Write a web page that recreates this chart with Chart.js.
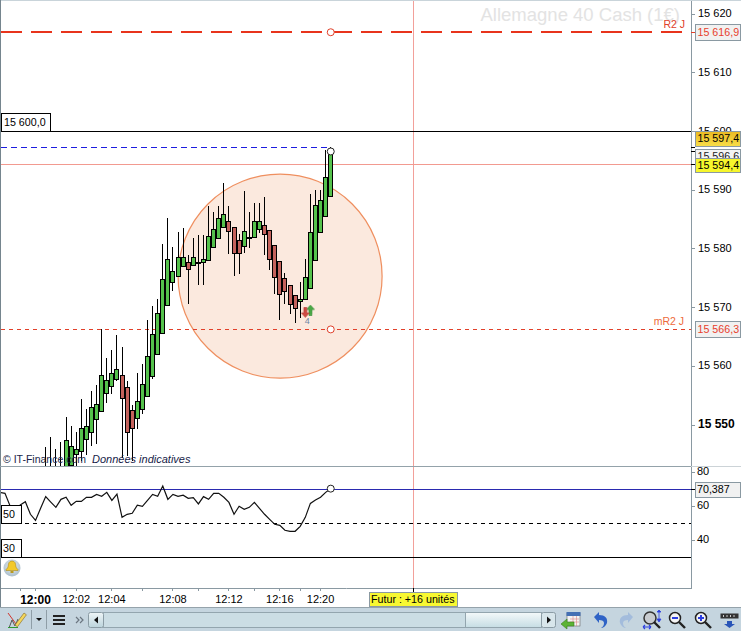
<!DOCTYPE html>
<html><head><meta charset="utf-8">
<style>
html,body{margin:0;padding:0;background:#fff;width:741px;height:631px;overflow:hidden}
canvas{position:absolute;left:0}
.d{position:absolute}
svg{position:absolute;left:0;top:0}
</style>
<script src="https://cdn.jsdelivr.net/npm/chart.js@4"></script>
</head><body>
<canvas id="main" width="741" height="466" style="top:0"></canvas>
<canvas id="osc" width="741" height="140" style="top:467px"></canvas>
<div class="d" style="left:0;top:0;width:741px;height:1px;background:#c9d4da"></div>
<div class="d" style="left:0;top:0;width:1px;height:607px;background:#75858e"></div>
<div class="d" style="left:0;top:466px;width:691px;height:1px;background:#94a2aa"></div>
<div class="d" style="left:691px;top:466px;width:50px;height:1px;background:#ccd3d7"></div>
<svg width="741" height="631" viewBox="0 0 741 631">
  <defs>
    <linearGradient id="bar" x1="0" y1="0" x2="0" y2="1"><stop offset="0" stop-color="#eef5f7"/><stop offset="1" stop-color="#bcd4dc"/></linearGradient>
    <linearGradient id="thumb" x1="0" y1="0" x2="0" y2="1"><stop offset="0" stop-color="#f4f9fa"/><stop offset="1" stop-color="#c6dde4"/></linearGradient>
    <radialGradient id="bellbg" cx=".5" cy=".4" r=".6"><stop offset="0" stop-color="#eef2f4"/><stop offset="1" stop-color="#a9bdcb"/></radialGradient>
  </defs>
  <!-- bell -->
  <circle cx="12" cy="568" r="8.5" fill="url(#bellbg)"/>
  <path d="M12 561c-3 0-3.6 2.4-3.8 5-.1 1.6-1.2 2.6-2.2 3.6v.9h12v-.9c-1-1-2.1-2-2.2-3.6-.2-2.6-.8-5-3.8-5z" fill="#f3c92b" stroke="#a78a1c" stroke-width=".6"/>
  <rect x="10.5" y="571" width="3" height="2" fill="#b99a20"/>
  <!-- toolbar -->
  <rect x="0" y="607" width="741" height="24" fill="#c5d5df"/>
  <rect x="0" y="607" width="741" height="1" fill="#95a3ab"/>
  <!-- pencil -->
  <path d="M8 613l8 11" stroke="#d0342c" stroke-width="1" fill="none"/>
  <path d="M9 628l3-8 3 6 3-7" stroke="#555" stroke-width="1" fill="none"/>
  <path d="M8 627.5h10" stroke="#2d9a30" stroke-width="1"/>
  <path d="M15 625l9-12 2.4 1.8-9 12z" fill="#f5d65a" stroke="#8d7530" stroke-width=".7"/>
  <rect x="31" y="610" width="1" height="19" fill="#8f9ea7"/>
  <path d="M36 618h6l-3 3z" fill="#111"/>
  <rect x="46" y="610" width="1" height="19" fill="#8f9ea7"/>
  <rect x="53" y="615" width="12" height="2" fill="#222"/><rect x="53" y="619" width="12" height="2" fill="#222"/><rect x="53" y="623" width="12" height="2" fill="#222"/>
  <path d="M76 617l3 3-3 3M80 617l3 3-3 3" stroke="#6b7680" stroke-width="1.2" fill="none"/>
  <!-- scrollbar -->
  <rect x="103" y="612.5" width="363" height="15" fill="#cbdde4" stroke="#93a5ae"/>
  <rect x="88.5" y="612.5" width="15" height="15" rx="2" fill="url(#bar)" stroke="#8b9ca5"/>
  <path d="M98 616.5v7l-4-3.5z" fill="#111"/>
  <rect x="465.5" y="612.5" width="76" height="15" fill="url(#thumb)" stroke="#93a5ae"/>
  <rect x="541.5" y="612.5" width="14" height="15" rx="2" fill="#d8e6eb" stroke="#8b9ca5"/>
  <path d="M547 616.5v7l4-3.5z" fill="#111"/>
  <!-- calendar arrow -->
  <rect x="567" y="613" width="13" height="13" fill="#f3f3f3" stroke="#777" stroke-width=".7"/>
  <rect x="566.5" y="612" width="14" height="4" fill="#4470b4"/>
  <path d="M570 619h9M570 622h9M573 616v10M576.500 616v10" stroke="#d88" stroke-width=".6"/>
  <path d="M561 624l6-5v3h7v4h-7v3z" fill="#5cb335" stroke="#3b7f20" stroke-width=".6"/>
  <!-- undo redo -->
  <path d="M594 617l5-5v3c6 0 9 3 8 8-1 3-4 5-6 5 2-1 3-3 3-5 0-2-2-3-5-3v3z" fill="#2f63c6"/>
  <path d="M633 617l-5-5v3c-6 0-9 3-8 8 1 3 4 5 6 5-2-1-3-3-3-5 0-2 2-3 5-3v3z" fill="#a3bcdc"/>
  <!-- fit -->
  <circle cx="650" cy="618" r="6" fill="#c8ccd0" stroke="#333" stroke-width="1.5"/>
  <path d="M654 622l6 6" stroke="#222" stroke-width="2.4"/>
  <path d="M658 612h3v-0l-2-2-2 2zM659 611v10M657 619l2 3 2-3z" fill="#2c3fe0" stroke="#2c3fe0" stroke-width=".8"/>
  <path d="M643 627h8M643 627l2-2M643 627l2 2M651 627l-2-2M651 627l-2 2" stroke="#2c3fe0" stroke-width="1.1" fill="none"/>
  <!-- zoom out / in -->
  <circle cx="675" cy="618" r="5.5" fill="#f4f4f4" stroke="#222" stroke-width="1.5"/>
  <path d="M672 618h6" stroke="#2c3fe0" stroke-width="2"/><path d="M679 622l6 6" stroke="#222" stroke-width="2.4"/>
  <circle cx="701" cy="618" r="5.5" fill="#f4f4f4" stroke="#222" stroke-width="1.5"/>
  <path d="M698 618h6M701 615v6" stroke="#2c3fe0" stroke-width="2"/><path d="M705 622l6 6" stroke="#222" stroke-width="2.4"/>
  <!-- dropdown -->
  <rect x="720.500" y="613.500" width="18" height="5" fill="#333"/>
  <path d="M723 616h1M726.500 616h1M730 616h1M733.500 616h1" stroke="#fff" stroke-width="1.500"/>
  <path d="M727 621h5v3h3l-5.500 4-5.500-4h3z" fill="#2a55b8"/>
</svg>
<script>
// ---- data ----
const opens  = [15540,15541,15542,15541.5,15541,15543.0,15544.9,15545.4,15547.4,15548.6,15550.8,15552.2,15555.3,15556.5,15557.7,15558.5,15556.5,15552.5,15551.0,15552.5,15554.8,15558.2,15561.9,15565.5,15570.3,15574.2,15575.2,15577.0,15577.8,15577.1,15577.8,15577.6,15578.0,15580.2,15581.7,15583.6,15584.8,15583.8,15581.6,15580.4,15581.7,15581.9,15583.3,15584.1,15583.3,15580.7,15578.0,15575.1,15573.9,15572.2,15571.0,15571.3,15573.2,15578.0,15582.7,15585.5,15588.9];
const highs  = [15546.3,15547.9,15545.9,15547.1,15551.3,15549.8,15548.8,15554.4,15552.8,15555.8,15556.8,15566.4,15561.4,15562.8,15565.3,15563.3,15557.5,15553.4,15558.9,15560.4,15567.9,15570.3,15571.5,15580.9,15585.3,15580.4,15582.9,15583.6,15578.9,15581.9,15582.4,15582.4,15587.3,15586.3,15587.3,15591.3,15587.3,15583.8,15582.6,15589.9,15586.3,15587.9,15587.9,15588.9,15583.3,15580.7,15578.0,15575.9,15573.9,15572.2,15574.4,15578.3,15589.4,15590.0,15590.0,15596.9,15597.4];
const lows   = [15538,15538,15538,15538,15538,15541,15543,15543.9,15544.9,15546.4,15546.8,15552.2,15553.7,15555.3,15557.5,15544.4,15544.7,15543.9,15549.3,15551.9,15554.8,15557.8,15561.9,15565.5,15570.3,15572.9,15575.2,15577.0,15570.7,15577.1,15573.9,15573.9,15578.0,15580.2,15581.7,15583.6,15579.2,15575.4,15575.8,15579.3,15580.2,15581.9,15582.8,15579.0,15576.4,15572.3,15567.9,15570.6,15568.9,15567.4,15568.3,15571.3,15573.2,15578.0,15582.7,15585.5,15588.9];
const closes = [15542,15542.5,15542.8,15542.8,15547.4,15546.4,15545.9,15549.5,15549.8,15553.1,15553.6,15558.5,15557.7,15558.9,15559.5,15554.4,15548.6,15549.3,15554.1,15557.0,15561.8,15565.5,15569.1,15574.9,15578.3,15576.3,15578.7,15578.7,15576.4,15578.7,15577.5,15578.3,15582.2,15583.4,15585.3,15586.0,15582.9,15579.2,15579.2,15583.1,15582.0,15584.8,15584.8,15582.4,15578.1,15575.1,15572.2,15572.7,15570.5,15569.8,15571.5,15575.2,15582.9,15587.5,15588.4,15592.3,15596.6];
const rsiStart = -9;
const rsi = [68.2,67.6,60.2,57.8,60.8,62.7,55.3,51.7,58.8,65.7,62.5,59.4,64.1,65.3,60.6,62.9,62.9,65.3,65.3,67.0,65.9,68.2,63.5,67.2,53.5,55.3,55.9,60.6,60.0,63.5,67.0,65.9,71.9,64.1,67.0,65.9,66.5,64.7,65.1,61.4,65.7,64.1,67.6,67.6,65.3,62.3,55.3,60.0,58.2,59.4,62.3,58.8,55.3,52.3,49.4,48.8,45.9,45.3,45.3,48.2,53.5,61.7,63.7,65.3,68.2,70.387];
const priceTicks = [15620,15610,15600,15590,15580,15570,15560,15550];
const rsiTicks = [80,60,40];
const timeTickIdx = [-5,-2,6,13,19,25,30,36,41,46,50,54];
const timeTickLabels = ['','12:00','12:02','12:04','','12:08','','12:12','','12:16','','12:20'];
const R2 = 15616.9, mR2 = 15566.3, round15600 = 15600, high = 15597.4, last = 15596.6, sessionLine = 15594.4;
const futureIdx = 72.2, lastIdx = 56;
const rsiLevels = {cur:70.387, mid:50, low:30};
const circle = {x:46.05, y:15575.37, r:102};
const sellSignal = {x:51, y:15569.2}, buySignal = {x:52, y:15569.6};

// ---- styling constants ----
const FONT = '"Liberation Sans", Arial, sans-serif';
const xMin = -8.782, xMax = 126.778;
const GREEN='#55c24c', RED='#c4625c', AXIS='#8a99a2';
const idx = opens.map((_,i)=>i);
const fmt = v => String(Math.floor(v/1000))+' '+String(v%1000).padStart(3,'0');

function arrow(color, edge, up){
  const c=document.createElement('canvas'); c.width=9; c.height=11;
  const g=c.getContext('2d'); g.fillStyle=color; g.strokeStyle=edge; g.lineWidth=.6;
  g.beginPath();
  if(up){g.moveTo(4.5,.5);g.lineTo(8.5,5);g.lineTo(6,5);g.lineTo(6,10.5);g.lineTo(3,10.5);g.lineTo(3,5);g.lineTo(.5,5);}
  else{g.moveTo(4.5,10.5);g.lineTo(8.5,6);g.lineTo(6,6);g.lineTo(6,.5);g.lineTo(3,.5);g.lineTo(3,6);g.lineTo(.5,6);}
  g.closePath();g.fill();g.stroke();return c;
}

// opaque canvases so that text is drawn with sub-pixel smoothing, as in the reference
document.getElementById('main').getContext('2d',{alpha:false});
document.getElementById('osc').getContext('2d',{alpha:false});
const paper = {id:'paper', beforeDraw(ch){
  const c=ch.ctx; c.save(); c.fillStyle='#fff'; c.fillRect(0,0,ch.width,ch.height); c.restore();
}};

const snap = {id:'snap', afterDatasetsUpdate(ch){
  ch.getSortedVisibleDatasetMetas().forEach(m=>{
    if(m.type==='bar'){
      m.data.forEach(el=>{
        el.x=Math.floor(el.x)+.5;
        el.y=Math.round(el.y); el.base=Math.round(el.base);
        if(ch.data.datasets[m.index].minH && Math.abs(el.y-el.base)<2) el.base=el.y+2;
      });
    } else if(m.type==='line'){
      const w=ch.data.datasets[m.index].borderWidth||1;
      m.data.forEach(el=>{
        if(ch.data.datasets[m.index].snapY) el.y=(w%2)?Math.round(el.y)+.5:Math.round(el.y);
        if(ch.data.datasets[m.index].snapX) el.x=Math.floor(el.x)+.5;
      });
    }
  });
}};

function box(ctx,x,y,w,h,fill,stroke){
  ctx.fillStyle=fill; ctx.fillRect(x,y,w,h);
  ctx.strokeStyle=stroke; ctx.lineWidth=1; ctx.strokeRect(x+.5,y+.5,w-1,h-1);
}
function label(ctx,t,x,y,color,font,align){
  ctx.fillStyle=color; ctx.font=font||('10.700px '+FONT); ctx.textAlign=align||'left'; ctx.textBaseline='middle'; ctx.fillText(t,x,y);
}

const mainDeco = {id:'mainDeco',
  beforeDatasetsDraw(ch){
    const c=ch.ctx; c.save();
    label(c,'Allemagne 40 Cash (1€)',680,16,'#e3e3e3','18.500px '+FONT,'right');
    c.restore();
  },
  afterDraw(ch){
    const c=ch.ctx, Y=ch.scales.y, X=ch.scales.x; c.save();
    label(c,'R2 J',685,25,'#e0402a','10.500px '+FONT,'right');
    label(c,'mR2 J',684,322,'#ee6a3c','10.500px '+FONT,'right');
    label(c,'4',X.getPixelForValue(51.4),322,'#6f86a6','9px '+FONT,'center');
    // copyright
    label(c,'© IT-Finance.com',3,460,'#1a1f4a','10.500px '+FONT);
    label(c,'Données indicatives',92,460,'#161b48','italic 11px '+FONT);
    // left tag
    const yl=Math.round(Y.getPixelForValue(round15600));
    box(c,1,yl-18,50,19,'#fff','#000'); label(c,'15 600,0',4,yl-8,'#000');
    // value ticks
    [[R2,'#e0402a'],[high,'#000'],[last,'#000'],[sessionLine,'#000']].forEach(([v,col])=>{
      const y=Math.round(Y.getPixelForValue(v))+.5; c.strokeStyle=col; c.lineWidth=1;
      c.beginPath();c.moveTo(691,y);c.lineTo(695,y);c.stroke();
    });
    // value tags
    const yR=Y.getPixelForValue(R2);
    box(c,695,Math.round(yR)-8,46,17,'#f1f1f1',AXIS); label(c,'15 616,9',697.500,yR+.5,'#e8402c');
    const yU=Y.getPixelForValue(mR2);
    box(c,695,Math.round(yU)-8,46,17,'#f1f1f1',AXIS); label(c,'15 566,3',697.500,yU+1,'#e8402c');
    box(c,695,149,46,14,'#f4f4f4',AXIS); label(c,'15 596,6',697.500,157,'#222');
    const g=c.createLinearGradient(0,131,0,147); g.addColorStop(0,'#eab820'); g.addColorStop(1,'#f9e04a');
    box(c,695,131,46,16,g,AXIS); label(c,'15 597,4',697.500,139.5,'#000');
    box(c,695,158,46,15,'#f6f62c',AXIS); label(c,'15 594,4',697.500,166,'#000');
    c.restore();
  }};

const oscDeco = {id:'oscDeco', afterDraw(ch){
  const c=ch.ctx, Y=ch.scales.y, X=ch.scales.x; c.save();
  const y50=Math.round(Y.getPixelForValue(rsiLevels.mid)), y30=Math.round(Y.getPixelForValue(rsiLevels.low));
  box(c,1,y50-18,21,19,'#fff','#000'); label(c,'50',3,y50-8,'#000');
  box(c,1,y30-18,21,19,'#fff','#000'); label(c,'30',3,y30-8,'#000');
  const yc=Math.round(Y.getPixelForValue(rsiLevels.cur))+.5;
  c.strokeStyle='#000'; c.lineWidth=1; c.beginPath();c.moveTo(691,yc);c.lineTo(695,yc);c.stroke();
  box(c,695,Math.round(yc)-8,46,16,'#f1f1f1',AXIS); label(c,'70,387',697,yc+.5,'#000');
  const xf=Math.floor(X.getPixelForValue(futureIdx))+.5;
  c.strokeStyle='#000'; c.beginPath();c.moveTo(xf,121);c.lineTo(xf,125);c.stroke();
  box(c,369,125,89,15,'#f8f832',AXIS); label(c,'Futur : +16 unités',371,133,'#000');
  c.restore();
}};

const hLine=(v,color,w,dash,to)=>({type:'line',data:[{x:xMin,y:v},{x:to===undefined?xMax:to,y:v}],borderColor:color,borderWidth:w,borderDash:dash||[],pointRadius:0,order:5,snapY:true});
const vLine=(yA,yB)=>({type:'line',data:[{x:futureIdx,y:yA},{x:futureIdx,y:yB}],borderColor:'#f2a09a',borderWidth:1,pointRadius:0,order:6,snapX:true});
const dot=(x,y,col,order)=>({type:'scatter',data:[{x,y}],pointRadius:3.5,pointBackgroundColor:'#fff',pointBorderColor:col,pointBorderWidth:1,order:order||1});

const yMainMax=15622.39, yMainMin=15543.04;
new Chart(document.getElementById('main'),{
  type:'bar',
  data:{datasets:[
    {type:'bubble',data:[{x:circle.x,y:circle.y,r:circle.r}],backgroundColor:'#fbe9de',borderColor:'#ef8f5f',borderWidth:1.2,order:20},
    hLine(R2,'#e8341c',2,[21,9]),
    hLine(mR2,'#e2402a',1,[4,4]),
    hLine(round15600,'#000',1),
    hLine(high,'#1c1ce0',1,[6,4],lastIdx),
    hLine(sessionLine,'#f29a90',1),
    vLine(yMainMin,yMainMax),
    {type:'bar',data:idx.map(i=>({x:i,y:[lows[i],highs[i]]})),barThickness:1,backgroundColor:'#000',borderWidth:0,inflateAmount:0,grouped:false,order:4},
    {type:'bar',minH:true,data:idx.map(i=>({x:i,y:[opens[i],closes[i]]})),barThickness:5,
      backgroundColor:idx.map(i=>closes[i]>=opens[i]?GREEN:RED),borderColor:'#000',borderWidth:1,borderSkipped:false,inflateAmount:0,grouped:false,order:3},
    dot(lastIdx,R2,'#e0402a'),dot(lastIdx,mR2,'#e0402a'),dot(lastIdx,last,'#222'),
    {type:'scatter',data:[sellSignal],pointStyle:arrow('#cf4a44','#b23a36',false),order:1},
    {type:'scatter',data:[buySignal],pointStyle:arrow('#49a845','#2f8a30',true),order:1}
  ]},
  options:{responsive:false,animation:false,devicePixelRatio:1,
    layout:{autoPadding:false,padding:{left:1,right:0,top:0,bottom:0}},
    plugins:{legend:{display:false},tooltip:{enabled:false}},
    scales:{
      x:{type:'linear',min:xMin,max:xMax,offset:false,display:false,grid:{display:false}},
      y:{type:'linear',position:'right',min:yMainMin,max:yMainMax,
        afterBuildTicks:s=>{s.ticks=priceTicks.map(value=>({value}))},
        afterFit:s=>{s.width=50;s.paddingTop=0;s.paddingBottom=0},
        grid:{drawOnChartArea:false,tickLength:4,color:AXIS},
        border:{color:AXIS},
        ticks:{padding:3,color:'#000',autoSkip:false,callback:v=>fmt(v),
          font:c=>c.tick&&c.tick.value===15550?{family:FONT,size:12,weight:'bold'}:{family:FONT,size:11}}}
    }},
  plugins:[paper,snap,mainDeco]
});

const yOscMax=83.12, yOscMin=11.94;
const lastRsi=rsi.length-1;
new Chart(document.getElementById('osc'),{
  type:'line',
  data:{datasets:[
    vLine(yOscMin,yOscMax),
    hLine(rsiLevels.cur,'#2a2ab0',1),
    hLine(rsiLevels.mid,'#000',1,[4,4]),
    hLine(rsiLevels.low,'#000',1),
    {type:'line',data:rsi.map((v,i)=>({x:rsiStart+i,y:v})),borderColor:'#111',borderWidth:1.2,tension:0,
     pointRadius:c=>c.dataIndex===lastRsi?3.5:0,pointBackgroundColor:'#fff',pointBorderColor:'#222',pointBorderWidth:1,order:1}
  ]},
  options:{responsive:false,animation:false,devicePixelRatio:1,
    layout:{autoPadding:false,padding:{left:1,right:0,top:0,bottom:0}},
    plugins:{legend:{display:false},tooltip:{enabled:false}},
    scales:{
      x:{type:'linear',min:xMin,max:xMax,offset:false,
        afterBuildTicks:s=>{s.ticks=timeTickIdx.map(value=>({value}))},
        afterFit:s=>{s.height=19;s.paddingLeft=0;s.paddingRight=0},
        grid:{drawOnChartArea:false,tickLength:3,color:AXIS},
        border:{color:AXIS},
        ticks:{autoSkip:false,maxRotation:0,minRotation:0,padding:2,color:'#000',
          callback:v=>timeTickLabels[timeTickIdx.indexOf(v)],
          font:c=>c.tick&&c.tick.value===-2?{family:FONT,size:12,weight:'bold'}:{family:FONT,size:11}}},
      y:{type:'linear',position:'right',min:yOscMin,max:yOscMax,
        afterBuildTicks:s=>{s.ticks=rsiTicks.map(value=>({value}))},
        afterFit:s=>{s.width=50;s.paddingTop=0;s.paddingBottom=0},
        grid:{drawOnChartArea:false,tickLength:4,color:AXIS},
        border:{color:AXIS},
        ticks:{padding:2,color:'#000',autoSkip:false,font:{family:FONT,size:11}}}
    }},
  plugins:[paper,snap,oscDeco]
});
</script>
</body></html>
